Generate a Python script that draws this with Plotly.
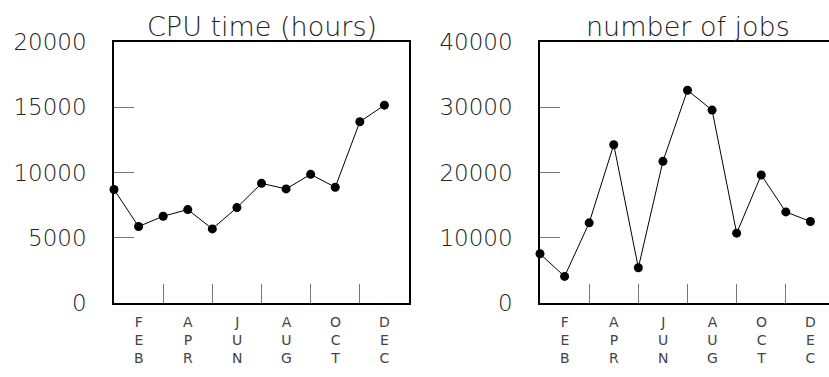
import plotly.graph_objects as go

months = ["JAN", "FEB", "MAR", "APR", "MAY", "JUN", "JUL", "AUG", "SEP", "OCT", "NOV", "DEC"]
cpu_hours = [8700, 5860, 6650, 7160, 5680, 7310, 9170, 8740, 9860, 8870, 13890, 15160]
num_jobs = [7540, 4080, 12280, 24260, 5400, 21710, 32610, 29560, 10700, 19620, 13960, 12490]
titles = ["CPU time (hours)", "number of jobs"]
label_months = ["FEB", "APR", "JUN", "AUG", "OCT", "DEC"]
cpu_ticks = [0, 5000, 10000, 15000, 20000]
jobs_ticks = [0, 10000, 20000, 30000, 40000]

FONT = "DejaVu Sans"
TXT = "#222222"

W, H = 829, 377
ML, MT, MB, MR = 114, 42, 74, 0
pw = W - ML - MR
x_idx = list(range(len(months)))

fig = go.Figure()
for vals, xa, ya in [(cpu_hours, "x", "y"), (num_jobs, "x2", "y2")]:
    fig.add_trace(go.Scatter(
        x=x_idx, y=vals, xaxis=xa, yaxis=ya, mode="lines+markers",
        line=dict(color="black", width=1),
        marker=dict(color="black", size=9),
        showlegend=False, hoverinfo="skip", cliponaxis=False,
    ))

dom1 = [0, 295 / pw]
dom2 = [(540 - ML) / pw, 1]
# right panel frame runs past the window edge
r2 = 12 * (W - 540) / 295

common_x = dict(showgrid=False, zeroline=False, showline=True, linecolor="black", linewidth=1.5,
                ticks="inside", ticklen=19, tickcolor="#777777", tickwidth=1.2,
                tickvals=[0, 2, 4, 6, 8, 10, 12], showticklabels=False, mirror=True)
common_y = dict(showgrid=False, zeroline=False, showline=True, linecolor="black", linewidth=1.5,
                ticks="inside", ticklen=20, tickcolor="#777777", tickwidth=1.2,
                tickfont=dict(family=FONT, size=23, color=TXT, weight=200),
                ticklabelstandoff=21)

fig.update_layout(
    width=W, height=H, margin=dict(l=ML, r=MR, t=MT, b=MB),
    plot_bgcolor="white", paper_bgcolor="white",
    xaxis=dict(domain=dom1, range=[0, 12], anchor="y", **common_x),
    yaxis=dict(domain=[0, 1], range=[0, 20000], tickvals=cpu_ticks,
               ticktext=[str(v) for v in cpu_ticks], anchor="x", mirror=True, **common_y),
    xaxis2=dict(domain=dom2, range=[0, r2], anchor="y2", **common_x),
    yaxis2=dict(domain=[0, 1], range=[0, 40000], tickvals=jobs_ticks,
                ticktext=[str(v) for v in jobs_ticks], anchor="x2", mirror=False, **common_y),
)

anns = []
for t, xref in zip(titles, ["x", "x2"]):
    anns.append(dict(text=t, xref=xref, x=6, yref="paper", y=1, yanchor="bottom",
                     yshift=-2, showarrow=False,
                     font=dict(family=FONT, size=27, color=TXT, weight=200)))
for xref in ["x", "x2"]:
    for m in label_months:
        xi = months.index(m)
        anns.append(dict(text="<br>".join(m), xref=xref, x=xi, yref="paper", y=0, yanchor="top",
                         yshift=-9, showarrow=False,
                         font=dict(family=FONT, size=14, color="#444444", weight=400)))
fig.update_layout(annotations=anns)

fig.write_html("out.html", config={"displayModeBar": False},
               post_script="document.body.style.margin='0';document.body.style.overflow='hidden';")
